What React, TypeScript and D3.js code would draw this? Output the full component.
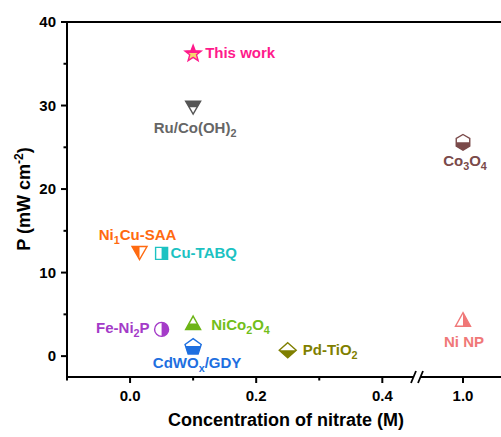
import React from "react";
import * as d3 from "d3";

// ---- data ----
const names = ["This work", "Ru/Co(OH)_2", "Co_3O_4", "Ni_1Cu-SAA", "Cu-TABQ", "NiCo_2O_4", "Fe-Ni_2P", "CdWO_x/GDY", "Pd-TiO_2", "Ni NP"];
const concentration = [0.1, 0.1, 1.0, 0.015, 0.05, 0.1, 0.05, 0.1, 0.25, 1.0];
const power = [36.3, 29.8, 25.6, 12.4, 12.3, 3.9, 3.2, 1.2, 0.7, 4.3];
const xMajorTicks = [0.0, 0.2, 0.4, 1.0];
const xTickLabels = ["0.0", "0.2", "0.4", "1.0"];
const xMinorTicks = [-0.1, 0.1, 0.3];
const yMajorTicks = [0, 10, 20, 30, 40];
const yMinorTicks = [5, 15, 25, 35];

// ---- styles ----
const colors = ["#FF1A8C", "#555555", "#7A4A4A", "#FF6A10", "#1CC2C2", "#6DB516", "#A43BC8", "#1E6FE0", "#7F7F00", "#F07878"];
const labelColors = ["#FF1A8C", "#666666", "#7A4A4A", "#FF6A10", "#1CC2C2", "#72BE1A", "#A43BC8", "#1E6FE0", "#7F7F00", "#F07878"];
const shapes = ["star", "triDown", "hexagon", "triDown", "square", "triUp", "circle", "pentagon", "diamond", "triUp"];
const halves = ["top", "top", "bottom", "left", "right", "bottom", "right", "bottom", "bottom", "right"];
const labelDx = [12, 2, 2, -2, 9, 18, -12, 4, 15, 1];
const labelDy = [5, 26, 24, -13, 5, 6, 4, 22, 5, 27];
const labelAnchor = ["start", "middle", "middle", "middle", "start", "start", "end", "middle", "start", "middle"];

const W = 501, H = 437;
const x = d3.scaleLinear().domain([-0.1, 0.455, 1.0, 1.1]).range([67, 417, 463, 509]);
const y = d3.scaleLinear().domain([-2.5, 40]).range([377, 22]);

function poly(pts: number[][]) {
  return "M" + pts.map((p) => p.join(",")).join("L") + "Z";
}
function regular(n: number, r: number, rot: number) {
  const pts: number[][] = [];
  for (let k = 0; k < n; k++) {
    const a = rot + (k * 2 * Math.PI) / n;
    pts.push([r * Math.cos(a), r * Math.sin(a)]);
  }
  return pts;
}
function shapePath(s: string) {
  switch (s) {
    case "star": {
      const pts: number[][] = [];
      for (let k = 0; k < 10; k++) {
        const r = k % 2 === 0 ? 8.5 : 3.6;
        const a = -Math.PI / 2 + (k * Math.PI) / 5;
        pts.push([r * Math.cos(a), r * Math.sin(a) + 0.8]);
      }
      return poly(pts);
    }
    case "triDown":
      return poly([[-7.5, -6], [7.5, -6], [0, 7]]);
    case "triUp":
      return poly([[0, -7.5], [7.5, 6], [-7.5, 6]]);
    case "hexagon":
      return poly(regular(6, 7.8, -Math.PI / 2));
    case "square":
      return poly([[-6, -6], [6, -6], [6, 6], [-6, 6]]);
    case "pentagon":
      return poly(regular(5, 8.5, -Math.PI / 2).map((p) => [p[0], p[1] + 1]));
    case "diamond":
      return poly([[0, -7.5], [8.5, 0], [0, 7.5], [-8.5, 0]]);
    default:
      return "";
  }
}
function clipRect(h: string) {
  if (h === "top") return { x: -12, y: -12, width: 24, height: 12 };
  if (h === "bottom") return { x: -12, y: 0, width: 24, height: 12 };
  if (h === "left") return { x: -12, y: -12, width: 12, height: 24 };
  return { x: 0, y: -12, width: 12, height: 24 };
}

function Label({ text, fontSize }: { text: string; fontSize: number }) {
  const parts: React.ReactNode[] = [];
  let buf = "";
  let key = 0;
  let pendingUp = false;
  const flush = () => {
    if (buf) {
      parts.push(<tspan key={key++} dy={pendingUp ? -4 : 0}>{buf}</tspan>);
      pendingUp = false;
    }
    buf = "";
  };
  for (let i = 0; i < text.length; i++) {
    if (text[i] === "_" && i + 1 < text.length) {
      flush();
      parts.push(
        <tspan key={key++} dy={4} fontSize={fontSize * 0.72}>{text[i + 1]}</tspan>
      );
      pendingUp = true;
      i++;
    } else buf += text[i];
  }
  flush();
  return <>{parts}</>;
}

export default function App() {
  const font = "'Liberation Sans', Arial, Helvetica, sans-serif";
  const x0 = x(-0.1);
  const yb = y(-2.5);
  const yt = y(40);
  const brk = 417;
  const lfs = 15;
  return (
    <svg width={W} height={H} style={{ position: "absolute", left: 0, top: 0 }} fontFamily={font} fontWeight="bold">
      <defs>
        {names.map((_, i) => {
          const r = clipRect(halves[i]);
          return (
            <clipPath key={i} id={`half${i}`}>
              <rect {...r} />
            </clipPath>
          );
        })}
      </defs>
      <rect x={0} y={0} width={W} height={H} fill="#fff" />
      {/* frame */}
      <line x1={x0} x2={W} y1={yt} y2={yt} stroke="#000" strokeWidth={2} />
      <line x1={x0} x2={x0} y1={yt - 1} y2={yb + 1} stroke="#000" strokeWidth={2} />
      <line x1={x0 - 1} x2={brk - 3} y1={yb} y2={yb} stroke="#000" strokeWidth={2} />
      <line x1={brk + 3} x2={W} y1={yb} y2={yb} stroke="#000" strokeWidth={2} />
      <line x1={brk - 6} y1={yb + 6} x2={brk - 1} y2={yb - 6} stroke="#000" strokeWidth={1.8} />
      <line x1={brk + 1} y1={yb + 6} x2={brk + 6} y2={yb - 6} stroke="#000" strokeWidth={1.8} />
      {/* y ticks */}
      {yMajorTicks.map((t) => (
        <g key={"ym" + t}>
          <line x1={x0 - 6} x2={x0} y1={y(t)} y2={y(t)} stroke="#000" strokeWidth={2} />
          <text x={x0 - 11} y={y(t) + 5} textAnchor="end" fontSize={15}>{t}</text>
        </g>
      ))}
      {yMinorTicks.map((t) => (
        <line key={"yn" + t} x1={x0 - 3.5} x2={x0} y1={y(t)} y2={y(t)} stroke="#000" strokeWidth={2} />
      ))}
      {/* x ticks */}
      {xMajorTicks.map((t, i) => (
        <g key={"xm" + t}>
          <line x1={x(t)} x2={x(t)} y1={yb} y2={yb + 6} stroke="#000" strokeWidth={2} />
          <text x={x(t)} y={yb + 24} textAnchor="middle" fontSize={15}>{xTickLabels[i]}</text>
        </g>
      ))}
      {xMinorTicks.map((t) => (
        <line key={"xn" + t} x1={x(t)} x2={x(t)} y1={yb} y2={yb + 3.5} stroke="#000" strokeWidth={2} />
      ))}
      {/* axis titles */}
      <text x={286} y={426} textAnchor="middle" fontSize={18}>Concentration of nitrate (M)</text>
      <text transform={`translate(30,199) rotate(-90)`} textAnchor="middle" fontSize={18}>
        P (mW cm<tspan dy={-7} fontSize={12}>-2</tspan><tspan dy={7}>)</tspan>
      </text>
      {/* points */}
      {names.map((n, i) => {
        const cx = x(concentration[i]);
        const cy = y(power[i]);
        const c = colors[i];
        const isCircle = shapes[i] === "circle";
        const d = shapePath(shapes[i]);
        return (
          <g key={n}>
            <g transform={`translate(${cx},${cy})`}>
              {isCircle ? (
                <>
                  <circle r={7} fill="#fff" stroke={c} strokeWidth={1.4} />
                  <circle r={7} fill={c} clipPath={`url(#half${i})`} />
                </>
              ) : (
                <>
                  <path d={d} fill={shapes[i] === "star" ? "#F5D76E" : "#fff"} stroke={c} strokeWidth={1.4} strokeLinejoin="miter" />
                  <path d={d} fill={c} clipPath={`url(#half${i})`} />
                </>
              )}
            </g>
            <text
              x={cx + labelDx[i]}
              y={cy + labelDy[i]}
              textAnchor={labelAnchor[i] as any}
              fontSize={lfs}
              fill={labelColors[i]}
            >
              <Label text={n} fontSize={lfs} />
            </text>
          </g>
        );
      })}
    </svg>
  );
}
